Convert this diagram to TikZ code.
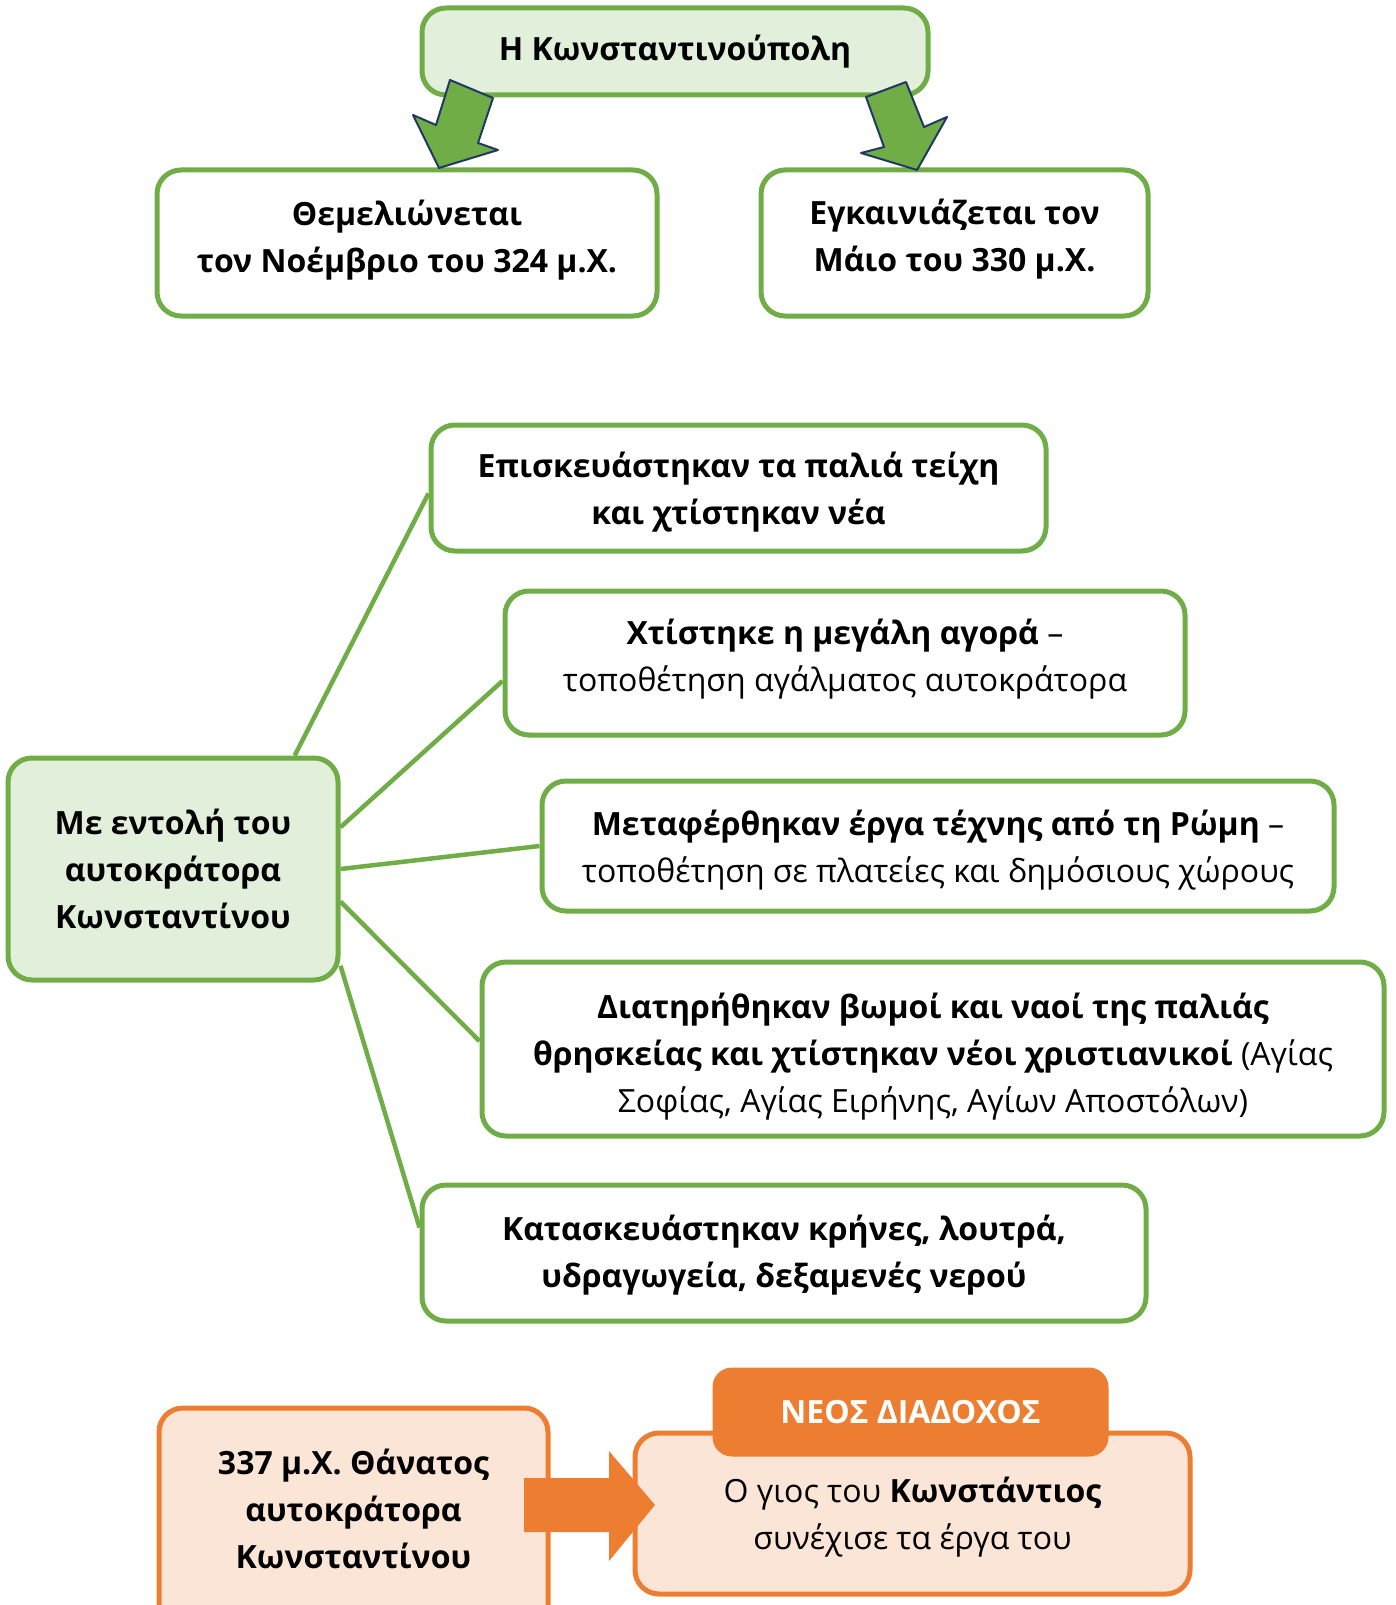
\documentclass[tikz,border=0pt]{standalone}
\usepackage{fontspec}
\setmainfont{Open Sans}
\usetikzlibrary{calc}
\definecolor{gbord}{HTML}{70AD47}
\definecolor{gfill}{HTML}{E2EFDA}
\definecolor{obord}{HTML}{ED7D31}
\definecolor{ofill}{HTML}{FBE5D6}
\definecolor{navy}{HTML}{1F3864}
\tikzset{
  box/.style={draw=gbord, line width=5pt, rounded corners=24pt, fill=white, inner sep=0pt},
  gbox/.style={box, fill=gfill},
  obox/.style={box, draw=obord, fill=ofill},
  txt/.style={align=center, inner sep=0pt, font=\fontsize{32}{47}\selectfont},
  link/.style={draw=gbord, line width=4.5pt},
  garrow/.style={fill=gbord, draw=navy, line width=2pt, line join=round},
  oarrow/.style={fill=obord, draw=none},
}
\begin{document}
\begin{tikzpicture}[x=1pt,y=-1pt]
\useasboundingbox (0,0) rectangle (1395,1605);
% top
\node[gbox, minimum width=506pt, minimum height=87pt] (top) at (675,51.5) {};
\node[txt] (toptxt) at (top) {\textbf{Η Κωνσταντινούπολη}};
\node[box, minimum width=500pt, minimum height=146pt] (found) at (407,243) {};
\node[txt] (foundtxt) at ($(found)+(0,-3)$) {\textbf{Θεμελιώνεται}\\\textbf{τον Νοέμβριο του 324 μ.Χ.}};
\node[box, minimum width=387pt, minimum height=146pt] (inaug) at (954.5,243) {};
\node[txt] (inaugtxt) at ($(inaug)+(0,-4)$) {\textbf{Εγκαινιάζεται τον}\\\textbf{Μάιο του 330 μ.Χ.}};
% arrows
\draw[garrow] (450,80) -- (493,98) -- (478,143) -- (498,150) -- (439,168) -- (413,115) -- (436,125) -- cycle;
\draw[garrow] (866,97) -- (906,82) -- (924,127) -- (947,117) -- (917,170) -- (861,153) -- (884,147) -- cycle;
% middle
\node[gbox, minimum width=330pt, minimum height=222pt] (cmd) at (173,869) {};
\node[txt] (cmdtxt) at (cmd) {\textbf{Με εντολή του}\\\textbf{αυτοκράτορα}\\\textbf{Κωνσταντίνου}};
\node[box, minimum width=615pt, minimum height=126pt] (b1) at (738.5,488) {};
\node[txt] (b1txt) at ($(b1)+(0,4)$) {\textbf{Επισκευάστηκαν τα παλιά τείχη}\\\textbf{και χτίστηκαν νέα}};
\node[box, minimum width=680pt, minimum height=144pt] (b2) at (845,663) {};
\node[txt] (b2txt) at ($(b2)+(0,-4)$) {\textbf{Χτίστηκε η μεγάλη αγορά} –\\τοποθέτηση αγάλματος αυτοκράτορα};
\node[box, minimum width=792pt, minimum height=130pt] (b3) at (938,846) {};
\node[txt] (b3txt) at ($(b3)+(0,4)$) {\textbf{Μεταφέρθηκαν έργα τέχνης από τη Ρώμη} –\\τοποθέτηση σε πλατείες και δημόσιους χώρους};
\node[box, minimum width=902pt, minimum height=174pt] (b4) at (933,1049) {};
\node[txt] (b4txt) at ($(b4)+(0,8)$) {\textbf{Διατηρήθηκαν βωμοί και ναοί της παλιάς}\\\textbf{θρησκείας και χτίστηκαν νέοι χριστιανικοί} (Αγίας\\Σοφίας, Αγίας Ειρήνης, Αγίων Αποστόλων)};
\node[box, minimum width=724pt, minimum height=136pt] (b5) at (784,1253) {};
\node[txt] (b5txt) at ($(b5)+(0,2)$) {\textbf{Κατασκευάστηκαν κρήνες, λουτρά,}\\\textbf{υδραγωγεία, δεξαμενές νερού}};
\draw[link] (cmd.43) -- (b1.181.9);
\draw[link] (cmd.14.3) -- (b2.183.7);
\draw[link] (cmd.-0.7) -- (b3.180);
\draw[link] (cmd.-11.3) -- (b4.179);
\draw[link] (cmd.-30) -- (b5.176);
% bottom
\node[obox, minimum width=389pt, minimum height=230pt] (death) at (353.5,1523) {};
\node[txt] (deathtxt) at (353.5,1509) {\textbf{337 μ.Χ. Θάνατος}\\\textbf{αυτοκράτορα}\\\textbf{Κωνσταντίνου}};
\node[obox, minimum width=555pt, minimum height=161pt] (succ) at (912.5,1513.5) {};
\node[txt] (succtxt) at ($(succ)+(0,4)$) {Ο γιος του \textbf{Κωνστάντιος}\\συνέχισε τα έργα του};
\node[draw=obord, fill=obord, line width=3pt, rounded corners=18pt, minimum width=393pt, minimum height=86pt] (head) at (910.5,1412) {};
\node[txt, text=white, font=\fontsize{32}{47}\selectfont\bfseries] (headtxt) at (head) {ΝΕΟΣ ΔΙΑΔΟΧΟΣ};
\draw[oarrow] (524,1478) -- (609,1478) -- (609,1451) -- (655,1505) -- (609,1561) -- (609,1532) -- (524,1532) -- cycle;
\end{tikzpicture}
\end{document}
